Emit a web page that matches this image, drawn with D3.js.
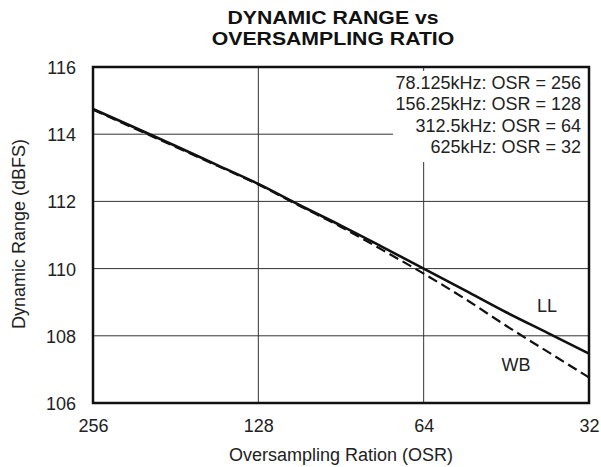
<!DOCTYPE html>
<html><head><meta charset="utf-8">
<script src="https://cdn.jsdelivr.net/npm/d3@7"></script>
<style>body{margin:0;background:#fff;} text{font-family:"Liberation Sans",Arial,sans-serif;}</style>
</head><body>
<svg id="c" width="601" height="467"></svg>
<script>
const osr = [256, 215, 181, 152, 128, 108, 90.5, 76, 64, 53.8, 45.3, 38, 32];
const llValues = [114.75, 114.2, 113.65, 113.08, 112.52, 111.9, 111.28, 110.64, 110.0, 109.35, 108.7, 108.08, 107.47];
const wbValues = [114.73, 114.17, 113.62, 113.06, 112.5, 111.88, 111.24, 110.55, 109.85, 109.1, 108.3, 107.52, 106.76];
const xTicks = [256, 128, 64, 32];
const yTicks = [106, 108, 110, 112, 114, 116];
const noteLines = ["78.125kHz: OSR = 256", "156.25kHz: OSR = 128", "312.5kHz: OSR = 64", "625kHz: OSR = 32"];
const titleLines = ["DYNAMIC RANGE vs", "OVERSAMPLING RATIO"];

const FS = 18;
const svg = d3.select("#c");
const L = 93, R = 589, T = 67, B = 403;
const x = d3.scaleLog().base(2).domain([256, 32]).range([L, R]);
const y = d3.scaleLinear().domain([106, 116]).range([B, T]);

// grid
const g = svg.append("g");
g.selectAll(".hx").data(yTicks.slice(1, -1)).join("line")
  .attr("x1", L).attr("x2", R)
  .attr("y1", d => y(d)).attr("y2", d => y(d))
  .attr("stroke", "#333").attr("stroke-width", 1);
g.selectAll(".vx").data(xTicks.slice(1, -1)).join("line")
  .attr("x1", d => x(d)).attr("x2", d => x(d))
  .attr("y1", T).attr("y2", B)
  .attr("stroke", "#333").attr("stroke-width", 1);
// white box behind notes
svg.append("rect").attr("x", 393).attr("y", 71).attr("width", R - 393).attr("height", 91).attr("fill", "#fff");

// lines
const line = d3.line().x(d => x(d[0])).y(d => y(d[1])).curve(d3.curveMonotoneX);
svg.append("path").datum(osr.map((o, i) => [o, wbValues[i]]))
  .attr("d", line).attr("fill", "none").attr("stroke", "#111").attr("stroke-width", 2.2)
  .attr("stroke-dasharray", "10,5");
svg.append("path").datum(osr.map((o, i) => [o, llValues[i]]))
  .attr("d", line).attr("fill", "none").attr("stroke", "#111").attr("stroke-width", 2.6);

// frame
svg.append("rect").attr("x", L).attr("y", T).attr("width", R - L).attr("height", B - T)
  .attr("fill", "none").attr("stroke", "#111").attr("stroke-width", 2.5);

// axes
const xa = svg.append("g").attr("transform", `translate(0,${B})`)
  .call(d3.axisBottom(x).tickValues(xTicks).tickFormat(d3.format("d")).tickSize(0).tickPadding(16));
xa.select(".domain").remove();
xa.selectAll("text").attr("font-size", FS).attr("fill", "#222").attr("font-family", "Liberation Sans, Arial, sans-serif");
const ya = svg.append("g").attr("transform", `translate(${L},0)`)
  .call(d3.axisLeft(y).tickValues(yTicks).tickFormat(d3.format("d")).tickSize(0).tickPadding(17));
ya.select(".domain").remove();
ya.selectAll("text").attr("font-size", FS).attr("fill", "#222").attr("dy", "0.36em").attr("font-family", "Liberation Sans, Arial, sans-serif");

// notes
svg.append("g").selectAll("text").data(noteLines).join("text")
  .attr("x", 581).attr("y", (d, i) => 89 + i * 21.4).attr("text-anchor", "end")
  .attr("font-size", FS).attr("fill", "#222").text(d => d);

// series labels
svg.append("text").attr("x", 547).attr("y", 312).attr("text-anchor", "middle").attr("font-size", FS).attr("fill", "#222").text("LL");
svg.append("text").attr("x", 516).attr("y", 371).attr("text-anchor", "middle").attr("font-size", FS).attr("fill", "#222").text("WB");

// title: horizontally widened bold text
const tg = svg.append("g").attr("transform", "translate(333,0) scale(1.18,1)");
tg.selectAll("text").data(titleLines).join("text")
  .attr("x", 0).attr("y", (d, i) => i === 0 ? 24.5 : 45.5)
  .attr("text-anchor", "middle").attr("font-size", 18)
  .attr("font-weight", "bold").attr("fill", "#111").text(d => d);

svg.append("text").attr("x", 341).attr("y", 461).attr("text-anchor", "middle").attr("font-size", FS).attr("fill", "#222").text("Oversampling Ration (OSR)");
svg.append("text").attr("transform", "translate(25,234) rotate(-90)").attr("text-anchor", "middle").attr("font-size", FS).attr("fill", "#222").text("Dynamic Range (dBFS)");
</script>
</body></html>
